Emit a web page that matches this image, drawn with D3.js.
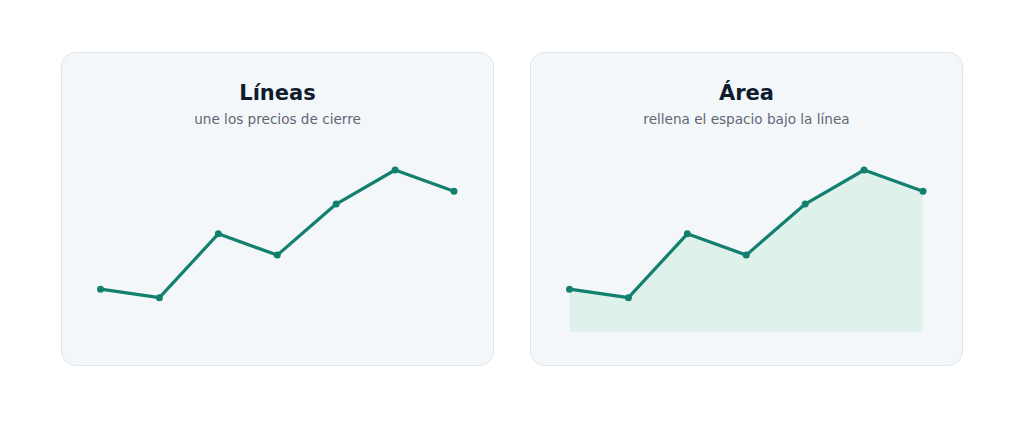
<!DOCTYPE html>
<html>
<head>
<meta charset="utf-8">
<script src="https://cdn.jsdelivr.net/npm/d3@7"></script>
<style>
  body { margin: 0; background: #ffffff; }
  svg { display: block; font-family: "DejaVu Sans", sans-serif; }
</style>
</head>
<body>
<svg id="chart" width="1024" height="427"></svg>
<script>
// datos
const days = [1, 2, 3, 4, 5, 6, 7];
const closes = [100, 98, 113, 108, 120, 128, 123];
const titles = ["Líneas", "Área"];
const subtitles = ["une los precios de cierre", "rellena el espacio bajo la línea"];
const hasArea = [false, true];

const svg = d3.select("#chart");
const cardW = 433, cardH = 314, cardY = 52;
const cardX = [61, 530];

const data = days.map((d, i) => ({day: d, close: closes[i]}));

titles.forEach((t, k) => {
    const g = svg.append("g").attr("transform", "translate(" + cardX[k] + "," + cardY + ")");
    g.append("rect")
        .attr("x", 0.5).attr("y", 0.5)
        .attr("width", cardW - 1).attr("height", cardH - 1)
        .attr("rx", 14)
        .attr("fill", "#f3f7fa")
        .attr("stroke", "#dfe5ec");
    g.append("text")
        .attr("x", cardW / 2).attr("y", 48)
        .attr("text-anchor", "middle")
        .attr("font-size", 21).attr("font-weight", "bold")
        .attr("fill", "#0f1c2e")
        .text(t);
    g.append("text")
        .attr("x", cardW / 2).attr("y", 72)
        .attr("text-anchor", "middle")
        .attr("font-size", 13.6)
        .attr("fill", "#5e6776")
        .text(subtitles[k]);

    const x = d3.scaleLinear().domain(d3.extent(days)).range([39.5, 393]);
    const y = d3.scaleLinear().domain([90, 128]).range([279.7, 118]);

    if (hasArea[k]) {
        g.append("path")
            .datum(data)
            .attr("fill", "#dff1eb")
            .attr("d", d3.area().x(d => x(d.day)).y0(y(90)).y1(d => y(d.close)));
    }
    g.append("path")
        .datum(data)
        .attr("fill", "none")
        .attr("stroke", "#13806f")
        .attr("stroke-width", 3.2)
        .attr("stroke-linejoin", "round")
        .attr("stroke-linecap", "round")
        .attr("d", d3.line().x(d => x(d.day)).y(d => y(d.close)));
    g.selectAll("circle")
        .data(data)
        .join("circle")
        .attr("cx", d => x(d.day))
        .attr("cy", d => y(d.close))
        .attr("r", 3.5)
        .attr("fill", "#13806f");
});
</script>
</body>
</html>
